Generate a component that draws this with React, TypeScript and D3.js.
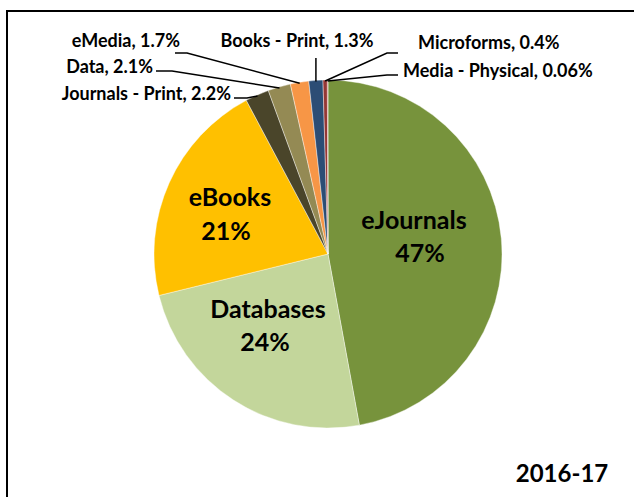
import * as d3 from "d3";

const categories = [
  "eJournals",
  "Databases",
  "eBooks",
  "Journals - Print",
  "Data",
  "eMedia",
  "Books - Print",
  "Microforms",
  "Media - Physical",
];
const shares = [47, 24, 21, 2.2, 2.1, 1.7, 1.3, 0.4, 0.06];
const shareText = ["47%", "24%", "21%", "2.2%", "2.1%", "1.7%", "1.3%", "0.4%", "0.06%"];
const colors = [
  "#77933C",
  "#C3D69B",
  "#FFC000",
  "#4A452A",
  "#948A54",
  "#F79646",
  "#2C4D75",
  "#953735",
  "#C0504D",
];
const yearLabel = "2016-17";

const W = 634;
const H = 497;
const cx = 328;
const cy = 254;
const r = 174;
const font = "Lato, 'Open Sans', sans-serif";

// label spots: name line and percent line for the big slices
const inside: Record<number, [number, number, number, number]> = {
  0: [414, 219, 420, 252],
  1: [268, 308, 265, 341],
  2: [230, 196, 226, 230],
};
const outside: Record<number, { x: number; y: number; anchor: string; elbow: [number, number][] }> = {
  3: { x: 231, y: 93, anchor: "end", elbow: [[234, 98], [247, 98]] },
  4: { x: 153, y: 66, anchor: "end", elbow: [[156, 71], [172, 71]] },
  5: { x: 180, y: 40, anchor: "end", elbow: [[175, 53], [187, 53]] },
  6: { x: 297, y: 40, anchor: "middle", elbow: [] },
  7: { x: 418, y: 42, anchor: "start", elbow: [[398, 53], [387, 53]] },
  8: { x: 403, y: 70, anchor: "start", elbow: [[398, 75], [387, 75]] },
};

export default function App() {
  const pie = d3
    .pie<number>()
    .sort(null)
    .value((d) => d);
  const arcs = pie(shares);
  const arc = d3.arc<d3.PieArcDatum<number>>().innerRadius(0).outerRadius(r);

  const edgePoint = (a: d3.PieArcDatum<number>, rr: number): [number, number] => {
    const m = (a.startAngle + a.endAngle) / 2;
    return [cx + rr * Math.sin(m), cy - rr * Math.cos(m)];
  };

  return (
    <svg
      width={W}
      height={H}
      style={{ position: "absolute", left: 0, top: 0, background: "#fff" }}
    >
      <rect x={7} y={11} width={W + 20} height={H + 20} fill="#fff" stroke="#000" strokeWidth={2} />
      <g transform={`translate(${cx},${cy})`}>
        {arcs.map((a, i) => (
          <path key={i} d={arc(a) || ""} fill={colors[i]} stroke="#fff" strokeWidth={0.4} />
        ))}
      </g>
      {arcs.map((a, i) => {
        const o = outside[i];
        if (!o) return null;
        const p = edgePoint(a, r - 1);
        let pts: [number, number][];
        if (o.elbow.length) pts = [...o.elbow, p];
        else pts = [[p[0], 58], p];
        return (
          <polyline
            key={"l" + i}
            points={pts.map((q) => q.join(",")).join(" ")}
            fill="none"
            stroke="#000"
            strokeWidth={1.5}
          />
        );
      })}
      {categories.map((c, i) => {
        const o = outside[i];
        if (!o) return null;
        return (
          <text
            key={"t" + i}
            x={o.x}
            y={o.y}
            textAnchor={o.anchor}
            dominantBaseline="central"
            fontFamily={font}
            fontWeight="bold"
            fontSize={18}
            fill="#000"
          >
            {`${c}, ${shareText[i]}`}
          </text>
        );
      })}
      {categories.map((c, i) => {
        const p = inside[i];
        if (!p) return null;
        return (
          <g key={"i" + i} fontFamily={font} fontWeight="bold" fontSize={25} fill="#000">
            <text x={p[0]} y={p[1]} textAnchor="middle" dominantBaseline="central">
              {c}
            </text>
            <text x={p[2]} y={p[3]} textAnchor="middle" dominantBaseline="central">
              {shareText[i]}
            </text>
          </g>
        );
      })}
      <text
        x={562}
        y={472}
        textAnchor="middle"
        dominantBaseline="central"
        fontFamily={font}
        fontWeight="bold"
        fontSize={24}
        fill="#000"
      >
        {yearLabel}
      </text>
    </svg>
  );
}
